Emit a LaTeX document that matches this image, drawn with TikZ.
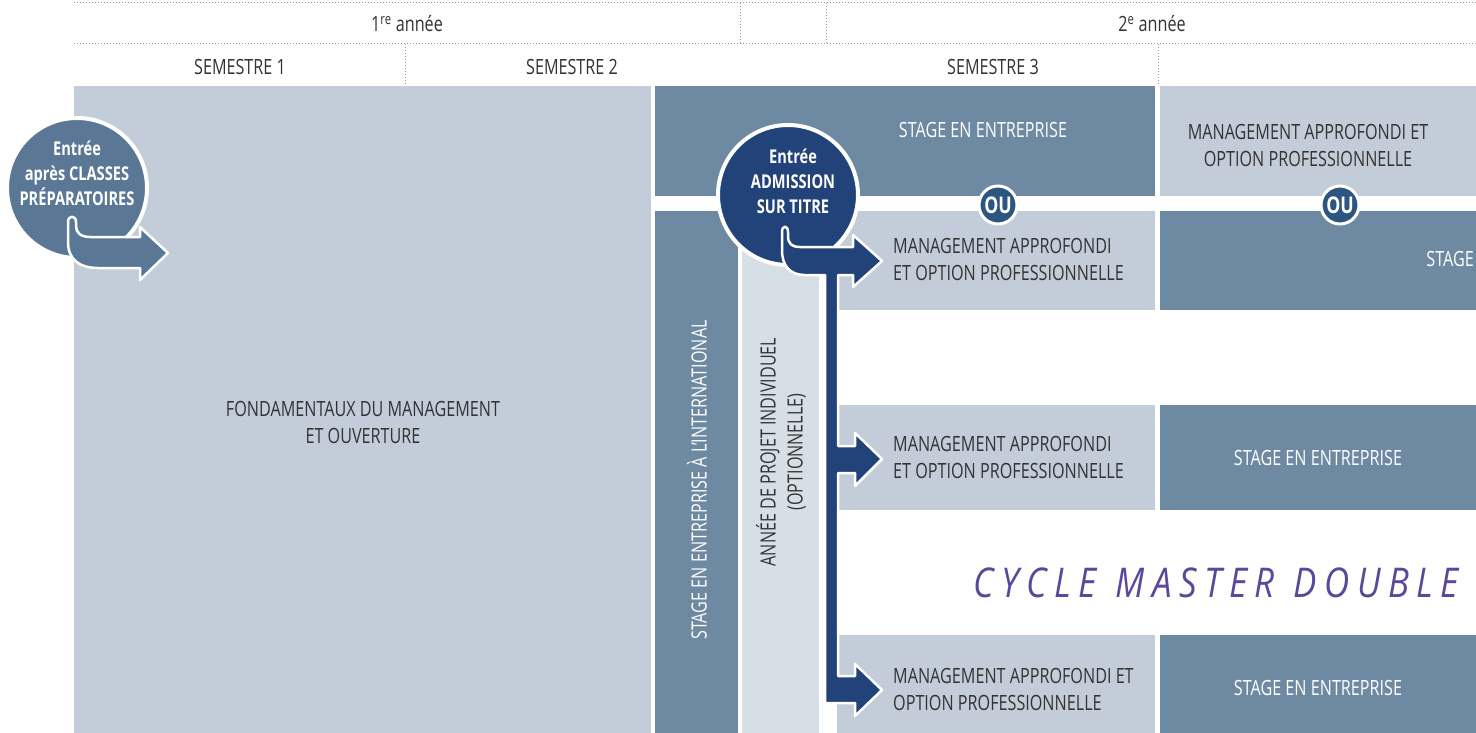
\documentclass[tikz,border=0pt]{standalone}
\usepackage{fontspec}
\setmainfont[FakeStretch=0.77]{Open Sans}
\newfontfamily\cyclefont[FakeStretch=0.85]{Open Sans}
\definecolor{lightbox}{HTML}{C2CDD9}
\definecolor{darkbox}{HTML}{6E89A2}
\definecolor{paler}{HTML}{D6DEE6}
\definecolor{navy}{HTML}{22427A}
\definecolor{steel}{HTML}{5A7896}
\definecolor{ouc}{HTML}{2C5580}
\definecolor{txt}{HTML}{333333}
\definecolor{purp}{HTML}{5B479B}
\definecolor{dotc}{HTML}{9A9A9A}
\newcommand{\hs}{\hspace{7.5pt}}
\newcommand{\hw}{\hspace{19pt}}
\begin{document}
\begin{tikzpicture}[x=1pt,y=-1pt,
  dotline/.style={dotc,line width=1pt,dotted},
  lbl/.style={text=txt,font=\fontsize{21}{27}\selectfont,inner sep=0pt,align=center},
  wlbl/.style={text=white,font=\fontsize{21}{27}\selectfont,inner sep=0pt,align=center},
  llbl/.style={text=txt,font=\fontsize{21}{27}\selectfont,inner sep=0pt,align=left,anchor=west},
  lightcell/.style={fill=lightbox,draw=none},
  darkcell/.style={fill=darkbox,draw=none},
  palecell/.style={fill=paler,draw=none},
  entry/.style={circle,draw=white,line width=4pt,minimum size=140pt,inner sep=0pt},
  ou/.style={circle,fill=ouc,draw=white,line width=3pt,minimum size=38pt,inner sep=0pt,text=white,font=\bfseries\fontsize{23}{24}\selectfont},
  arrowshape/.style={draw=white,line width=2.5pt,line join=round}]
\useasboundingbox (0,0) rectangle (1476,733);
\fill[white] (0,0) rectangle (1476,733);
% header
\draw[dotline] (74,3) -- (1476,3);
\draw[dotline] (74,44) -- (1476,44);
\draw[dotline] (740,3) -- (740,44);
\draw[dotline] (826,3) -- (826,44);
\draw[dotline] (405,44) -- (405,86);
\draw[dotline] (1158,44) -- (1158,86);
\node[lbl] (y1) at (407,24) {1\textsuperscript{re} année};
\node[lbl] (y2) at (1152,24) {2\textsuperscript{e} année};
\node[lbl] (s1) at (240,67) {SEMESTRE 1};
\node[lbl] (s2) at (572,67) {SEMESTRE 2};
\node[lbl] (s3) at (993,67) {SEMESTRE 3};
% cells
\fill[lightcell] (74,86) rectangle (651,733);
\fill[darkcell] (655,86) rectangle (1155,196);
\fill[lightcell] (1160,86) rectangle (1476,196);
\fill[darkcell] (655,211) rectangle (738,733);
\fill[palecell] (742,211) rectangle (819,733);
\fill[lightcell] (837,211) rectangle (1155,310);
\fill[darkcell] (1160,211) rectangle (1476,310);
\fill[lightcell] (837,405) rectangle (1155,510);
\fill[darkcell] (1160,405) rectangle (1476,510);
\fill[lightcell] (837,635) rectangle (1155,733);
\fill[darkcell] (1160,635) rectangle (1476,733);
% labels
\node[lbl] (fond) at (363,422) {FONDAMENTAUX DU MANAGEMENT\\ET OUVERTURE};
\node[wlbl] (stage1) at (983,130) {STAGE EN ENTREPRISE};
\node[lbl] (mao1) at (1308,145) {MANAGEMENT APPROFONDI ET\\OPTION PROFESSIONNELLE};
\node[llbl] (mao2) at (893,259) {MANAGEMENT APPROFONDI\\ET OPTION PROFESSIONNELLE};
\node[wlbl,anchor=east] (stage2) at (1474,259) {STAGE};
\node[llbl] (mao3) at (893,457) {MANAGEMENT APPROFONDI\\ET OPTION PROFESSIONNELLE};
\node[wlbl] (stage3) at (1318,458) {STAGE EN ENTREPRISE};
\node[llbl] (mao4) at (893,689) {MANAGEMENT APPROFONDI ET\\OPTION PROFESSIONNELLE};
\node[wlbl] (stage4) at (1318,688) {STAGE EN ENTREPRISE};
\node[wlbl,rotate=90] (intl) at (697,480) {STAGE EN ENTREPRISE À L'INTERNATIONAL};
\node[lbl,rotate=90] (projet) at (781,452) {ANNÉE DE PROJET INDIVIDUEL\\(OPTIONNELLE)};
\node[text=purp,inner sep=0pt,font=\cyclefont\itshape\fontsize{41}{41}\selectfont] (cycle) at (1216,583)
  {C\hs Y\hs C\hs L\hs E\hw M\hs A\hs S\hs T\hs E\hs R\hw D\hs O\hs U\hs B\hs L\hs E};
% OU circles
\node[ou] (ou1) at (998,205) {OU};
\node[ou] (ou2) at (1340,205) {OU};
% entry circles
\node[entry,fill=steel] (prep) at (77,188) {};
\node[text=white,inner sep=0pt,align=center,font=\bfseries\fontsize{19}{25}\selectfont] (preptxt) at (77,173) {Entrée\\après CLASSES\\PRÉPARATOIRES};
\node[entry,fill=navy] (ast) at (788,195) {};
\node[text=white,inner sep=0pt,align=center,font=\bfseries\fontsize{19}{25}\selectfont] (asttxt) at (793,181) {Entrée\\ADMISSION\\SUR TITRE};
% left arrow
\path[arrowshape,fill=steel] (68,222) -- (68,242) .. controls (68,260) and (80,268) .. (98,268) -- (140,268) -- (140,280) -- (168,253) -- (140,227) -- (140,237) -- (90,237) .. controls (81,237) and (76,233) .. (76,226) -- (76,222) .. controls (76,215) and (68,215) .. (68,222) -- cycle;
% navy arrows
\path[arrowshape,fill=navy] (782,232) .. controls (782,225) and (788,225) .. (788,232) -- (788,236) .. controls (788,244) and (792,247) .. (800,247) -- (853,247) -- (853,235) -- (882,261) -- (853,287) -- (853,275) -- (838,275) -- (838,446) -- (855,446) -- (855,433) -- (882,459) -- (855,486) -- (855,473) -- (838,473) -- (838,676) -- (855,676) -- (855,664) -- (882,690) -- (855,716) -- (855,703) -- (825,703) -- (825,275) -- (805,275) .. controls (790,275) and (782,266) .. (782,250) -- cycle;
\end{tikzpicture}
\end{document}
